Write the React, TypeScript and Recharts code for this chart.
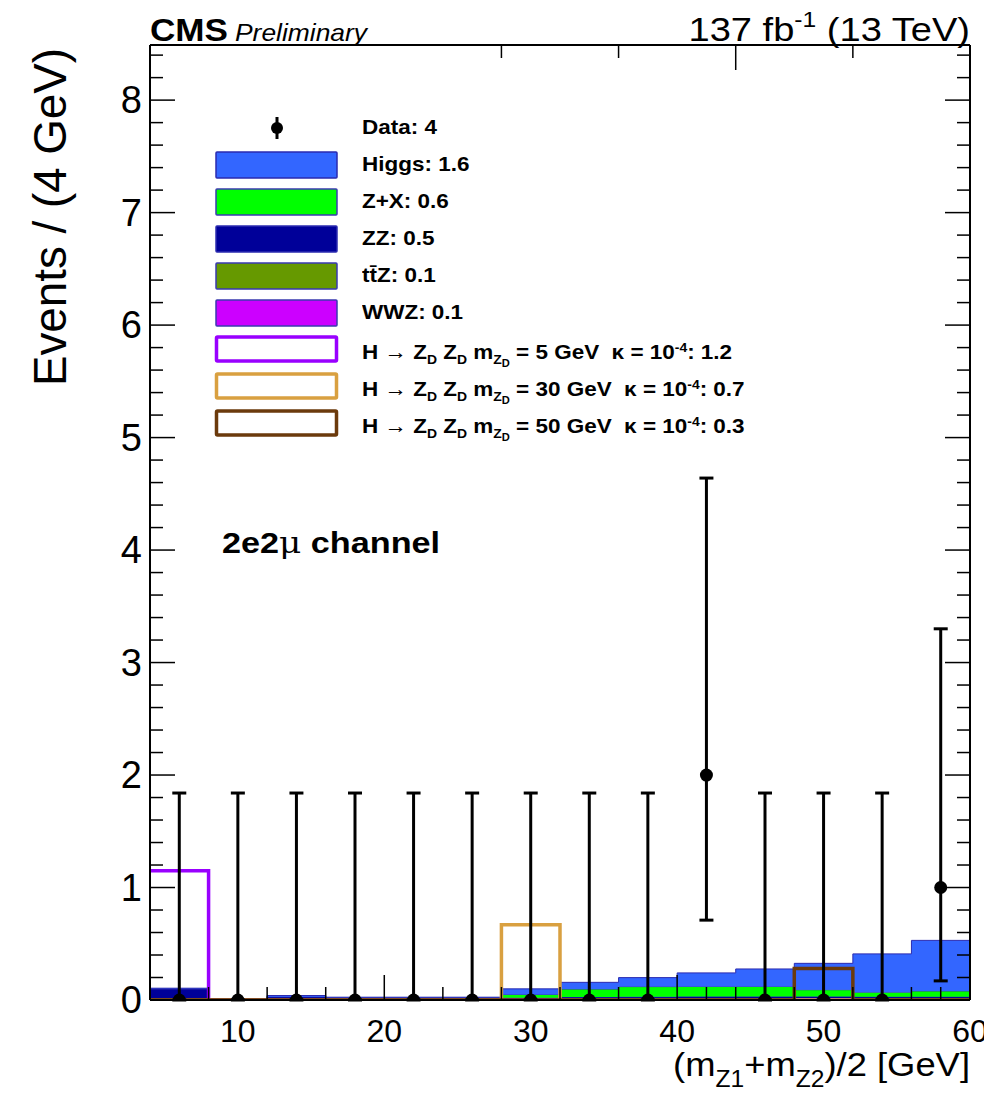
import React from 'react';
import {
  ComposedChart, Area, Line, Scatter, ErrorBar, XAxis, YAxis, Legend,
} from 'recharts';

// ---- Data ----
const binEdges = [4, 8, 12, 16, 20, 24, 28, 32, 36, 40, 44, 48, 52, 56, 60];
const higgs = [0.005, 0, 0.01, 0.005, 0.005, 0.005, 0.05, 0.06, 0.08, 0.12, 0.155, 0.235, 0.34, 0.45];
const zPlusX = [0, 0, 0, 0, 0, 0, 0.03, 0.07, 0.09, 0.09, 0.09, 0.06, 0.04, 0.05];
const zz = [0.1, 0, 0.03, 0.02, 0.02, 0.02, 0.015, 0.02, 0.02, 0.02, 0.02, 0.02, 0.02, 0.02];
const ttz = [0, 0, 0, 0, 0, 0, 0.002, 0.004, 0.005, 0.006, 0.006, 0.006, 0.005, 0.005];
const wwz = [0, 0, 0, 0, 0, 0, 0.002, 0.003, 0.004, 0.005, 0.005, 0.005, 0.005, 0.005];
const sig5 = [1.15, 0, 0, 0, 0, 0, 0, 0, 0, 0, 0, 0, 0, 0];
const sig30 = [0, 0, 0, 0, 0, 0, 0.67, 0, 0, 0, 0, 0, 0, 0];
const sig50 = [0, 0, 0, 0, 0, 0, 0, 0, 0, 0, 0, 0.28, 0, 0];

const dataCenters = [6, 10, 14, 18, 22, 26, 30, 34, 38, 42, 46, 50, 54, 58];
const dataValues = [0, 0, 0, 0, 0, 0, 0, 0, 0, 2, 0, 0, 0, 1];
const dataErrLow = [0, 0, 0, 0, 0, 0, 0, 0, 0, 1.29, 0, 0, 0, 0.83];
const dataErrHigh = [1.84, 1.84, 1.84, 1.84, 1.84, 1.84, 1.84, 1.84, 1.84, 2.64, 1.84, 1.84, 1.84, 2.3];

const xTicks = [4, 6, 8, 10, 12, 14, 16, 18, 20, 22, 24, 26, 28, 30, 32, 34, 36, 38, 40, 42, 44, 46, 48, 50, 52, 54, 56, 58, 60];
const yTicks = [0, 0.2, 0.4, 0.6, 0.8, 1, 1.2, 1.4, 1.6, 1.8, 2, 2.2, 2.4, 2.6, 2.8, 3, 3.2, 3.4, 3.6, 3.8, 4, 4.2, 4.4, 4.6, 4.8, 5, 5.2, 5.4, 5.6, 5.8, 6, 6.2, 6.4, 6.6, 6.8, 7, 7.2, 7.4, 7.6, 7.8, 8, 8.2, 8.4];

const histRows = binEdges.map((x, i) => {
  const j = Math.min(i, higgs.length - 1);
  return {
    x,
    higgs: higgs[j], zx: zPlusX[j], zz: zz[j], ttz: ttz[j], wwz: wwz[j],
    s5: sig5[j], s30: sig30[j], s50: sig50[j],
  };
});

const pointRows = dataCenters.map((x, i) => ({
  x, y: dataValues[i], err: [dataErrLow[i], dataErrHigh[i]],
}));

const FONT = '"Liberation Sans", Arial, Helvetica, sans-serif';
const MAJ = 25;
const MIN = 13;

const isMajorY = (v: number) => Math.abs(v - Math.round(v)) < 1e-6;

const XTickBottom = (props: any) => {
  const { x, y, payload } = props;
  const v = payload.value;
  const major = v % 10 === 0;
  if (v === 4) return <g />;
  return (
    <g>
      {v !== 60 && <line x1={x} x2={x} y1={y} y2={y - (major ? MAJ : MIN)} stroke="#000" strokeWidth={1.5} />}
      {major && (
        <text x={x} y={y + 42} textAnchor="middle" fontSize={32} fontFamily={FONT} fill="#000">{v}</text>
      )}
    </g>
  );
};

const XTickTop = (props: any) => {
  const { x, y, payload } = props;
  const v = payload.value;
  if (v === 4 || v === 60) return <g />;
  const major = v % 10 === 0;
  return <line x1={x} x2={x} y1={y} y2={y + (major ? MAJ : MIN)} stroke="#000" strokeWidth={1.5} />;
};

const YTickLeft = (props: any) => {
  const { x, y, payload } = props;
  const v = payload.value;
  const major = isMajorY(v);
  return (
    <g>
      {v !== 0 && <line x1={x} x2={x + (major ? MAJ : MIN)} y1={y} y2={y} stroke="#000" strokeWidth={1.5} />}
      {major && (
        <text x={x - 8} y={y + 13} textAnchor="end" fontSize={38} fontFamily={FONT} fill="#000">{Math.round(v)}</text>
      )}
    </g>
  );
};

const YTickRight = (props: any) => {
  const { x, y, payload } = props;
  const v = payload.value;
  if (v === 0) return <g />;
  const major = isMajorY(v);
  return <line x1={x} x2={x - (major ? MAJ : MIN)} y1={y} y2={y} stroke="#000" strokeWidth={1.5} />;
};

const sub = (t: React.ReactNode) => (
  <span style={{ fontSize: '0.62em', verticalAlign: '-0.35em' }}>{t}</span>
);
const sup = (t: React.ReactNode) => (
  <span style={{ fontSize: '0.62em', verticalAlign: '0.55em' }}>{t}</span>
);

const sigLabel = (m: string, n: string) => (
  <>
    H &rarr; Z{sub('D')} Z{sub('D')} m{sub(<>Z<span style={{ fontSize: '0.8em', verticalAlign: '-0.3em' }}>D</span></>)} = {m} GeV&nbsp;&nbsp;κ = 10{sup('-4')}: {n}
  </>
);

const legendItems = [
  { kind: 'data', label: <>Data: 4</> },
  { kind: 'fill', fill: '#3366ff', stroke: '#2b2bb0', label: <>Higgs: 1.6</> },
  { kind: 'fill', fill: '#00ff00', stroke: '#3a3ab0', label: <>Z+X: 0.6</> },
  { kind: 'fill', fill: '#000099', stroke: '#2b2bb0', label: <>ZZ: 0.5</> },
  { kind: 'fill', fill: '#669900', stroke: '#3a3ab0', label: <>t{'t\u0304'}Z: 0.1</> },
  { kind: 'fill', fill: '#cc00ff', stroke: '#3a3ab0', label: <>WWZ: 0.1</> },
  { kind: 'line', stroke: '#9900ff', label: sigLabel('5', '1.2') },
  { kind: 'line', stroke: '#d9a040', label: sigLabel('30', '0.7') },
  { kind: 'line', stroke: '#6b3a0c', label: sigLabel('50', '0.3') },
];

const LegendContent = () => (
  <div style={{ position: 'relative', width: 600, height: 340, fontFamily: FONT }}>
    {legendItems.map((it, i) => {
      const cy = 15 + i * 36.9;
      return (
        <div key={i} style={{ position: 'absolute', left: 0, top: cy - 15, height: 30, width: 600 }}>
          <svg width={126} height={30} style={{ position: 'absolute', left: 0, top: 0 }}>
            {it.kind === 'data' && (
              <g>
                <line x1={63} x2={63} y1={4} y2={26} stroke="#000" strokeWidth={3} />
                <circle cx={63} cy={15} r={6} fill="#000" />
              </g>
            )}
            {it.kind === 'fill' && (
              <rect x={2} y={2} width={121} height={26} fill={it.fill} stroke={it.stroke} strokeWidth={1.5} rx={1} />
            )}
            {it.kind === 'line' && (
              <rect x={2.5} y={3} width={120} height={24} fill="#fff" stroke={it.stroke} strokeWidth={3.5} rx={1} />
            )}
          </svg>
          <div style={{
            position: 'absolute', left: 148, top: 1, fontSize: 21, fontWeight: 'bold', lineHeight: '26px',
            whiteSpace: 'nowrap', color: '#000', transform: 'scaleX(1.07)', transformOrigin: 'left center',
          }}>
            {it.label}
          </div>
        </div>
      );
    })}
  </div>
);

export default function App() {
  const W = 984;
  const H = 1088;
  return (
    <div style={{ position: 'relative', width: W, height: H, background: '#fff' }}>
      <ComposedChart
        width={W}
        height={H}
        data={histRows}
        margin={{ top: 36, right: 21, bottom: 95, left: 141 }}
      >
        <XAxis
          dataKey="x" type="number" domain={[4, 60]} ticks={xTicks} interval={0}
          allowDataOverflow height={1} tickSize={0} tickMargin={0} tickLine={false}
          tick={<XTickBottom />} axisLine={{ stroke: '#000', strokeWidth: 2 }}
        />
        <XAxis
          xAxisId="top" orientation="top" type="number" domain={[4, 60]} ticks={xTicks} interval={0}
          allowDataOverflow height={1} tickSize={0} tickMargin={0} tickLine={false}
          tick={<XTickTop />} axisLine={{ stroke: '#000', strokeWidth: 2 }}
        />
        <YAxis
          type="number" domain={[0, 8.49]} ticks={yTicks} interval={0} allowDataOverflow
          width={1} tickSize={0} tickMargin={0} tickLine={false}
          tick={<YTickLeft />} axisLine={{ stroke: '#000', strokeWidth: 2 }}
        />
        <YAxis
          yAxisId="right" orientation="right" type="number" domain={[0, 8.49]} ticks={yTicks} interval={0}
          allowDataOverflow width={1} tickSize={0} tickMargin={0} tickLine={false}
          tick={<YTickRight />} axisLine={{ stroke: '#000', strokeWidth: 2 }}
        />
        <Area type="stepAfter" dataKey="wwz" stackId="bg" fill="#cc00ff" fillOpacity={1} stroke="#3a3ab0" strokeWidth={1} isAnimationActive={false} />
        <Area type="stepAfter" dataKey="ttz" stackId="bg" fill="#669900" fillOpacity={1} stroke="#3a3ab0" strokeWidth={1} isAnimationActive={false} />
        <Area type="stepAfter" dataKey="zz" stackId="bg" fill="#000099" fillOpacity={1} stroke="#2b2bb0" strokeWidth={1} isAnimationActive={false} />
        <Area type="stepAfter" dataKey="zx" stackId="bg" fill="#00ff00" fillOpacity={1} stroke="#3a3ab0" strokeWidth={1} isAnimationActive={false} />
        <Area type="stepAfter" dataKey="higgs" stackId="bg" fill="#3366ff" fillOpacity={1} stroke="#2b2bb0" strokeWidth={1} isAnimationActive={false} />
        <Line type="stepAfter" dataKey="s5" stroke="#9900ff" strokeWidth={3.5} dot={false} isAnimationActive={false} />
        <Line type="stepAfter" dataKey="s30" stroke="#d9a040" strokeWidth={3.5} dot={false} isAnimationActive={false} />
        <Line type="stepAfter" dataKey="s50" stroke="#6b3a0c" strokeWidth={3.5} dot={false} isAnimationActive={false} />
        <Scatter
          data={pointRows} dataKey="y" isAnimationActive={false}
          shape={(p: any) => <circle cx={p.cx} cy={p.cy} r={6.5} fill="#000" />}
        >
          <ErrorBar dataKey="err" direction="y" width={7} strokeWidth={3} stroke="#000" isAnimationActive={false} />
        </Scatter>
        <Legend
          layout="vertical" align="center" verticalAlign="middle"
          wrapperStyle={{ left: 206, top: 105, width: 600, height: 340 }}
          content={() => <LegendContent />}
        />
      </ComposedChart>
      <svg width={W} height={H} style={{ position: 'absolute', left: 0, top: 0, pointerEvents: 'none', overflow: 'visible' }} fontFamily={FONT}>
        <text x={142} y={33} fontSize={31} fontWeight="bold" fill="#000" textLength={78} lengthAdjust="spacingAndGlyphs">CMS</text>
        <text x={227} y={33} fontSize={24} fontStyle="italic" fill="#000" textLength={132} lengthAdjust="spacingAndGlyphs">Preliminary</text>
        <g transform="translate(962,33) scale(1.12,1)">
          <text x={0} y={0} fontSize={34} textAnchor="end" fill="#000">
            137 fb<tspan fontSize={22} dy={-14}>-1</tspan><tspan dy={14}> (13 TeV)</tspan>
          </text>
        </g>
        <text transform="translate(58,209) rotate(-90)" textAnchor="middle" fontSize={47} fill="#000" textLength={338} lengthAdjust="spacingAndGlyphs">Events / (4 GeV)</text>
        <g transform="translate(962,1068) scale(1.07,1)">
          <text x={0} y={0} fontSize={34} textAnchor="end" fill="#000">
            (m<tspan fontSize={23} dy={11}>Z1</tspan><tspan dy={-11}>+m</tspan><tspan fontSize={23} dy={11}>Z2</tspan><tspan dy={-11}>)/2 [GeV]</tspan>
          </text>
        </g>
        <g transform="translate(214,545) scale(1.18,1)">
          <text x={0} y={0} fontSize={29} fontWeight="bold" fill="#000">2e2<tspan fontWeight="normal" fontFamily="'DejaVu Serif', serif">μ</tspan> channel</text>
        </g>
      </svg>
    </div>
  );
}
